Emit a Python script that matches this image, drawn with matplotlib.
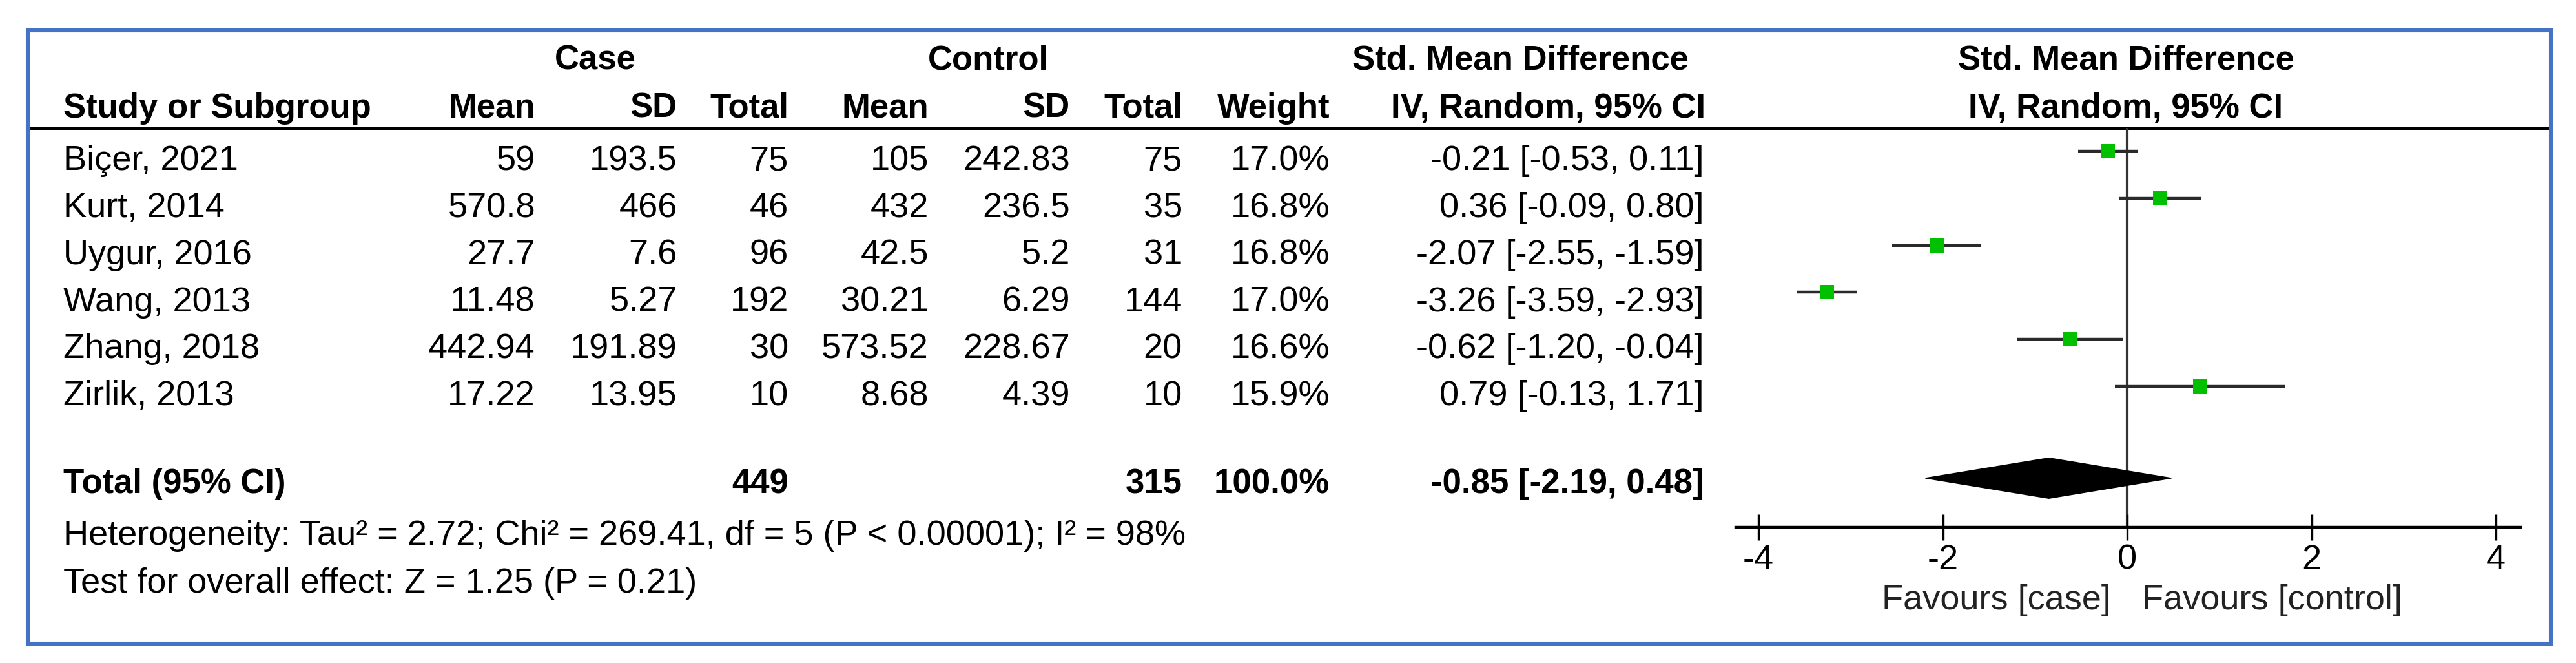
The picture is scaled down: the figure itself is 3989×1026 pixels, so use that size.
import matplotlib
matplotlib.use("Agg")
import matplotlib.pyplot as plt
from matplotlib.patches import Rectangle, Polygon
import numpy as np

plt.rcParams['font.family'] = ['Liberation Sans', 'DejaVu Sans']
plt.rcParams['axes.unicode_minus'] = False

# ---------------- data ----------------
studies = ['Biçer, 2021', 'Kurt, 2014', 'Uygur, 2016', 'Wang, 2013', 'Zhang, 2018', 'Zirlik, 2013']
case_mean = [59, 570.8, 27.7, 11.48, 442.94, 17.22]
case_sd = [193.5, 466, 7.6, 5.27, 191.89, 13.95]
case_n = [75, 46, 96, 192, 30, 10]
ctrl_mean = [105, 432, 42.5, 30.21, 573.52, 8.68]
ctrl_sd = [242.83, 236.5, 5.2, 6.29, 228.67, 4.39]
ctrl_n = [75, 35, 31, 144, 20, 10]
weights = [17.0, 16.8, 16.8, 17.0, 16.6, 15.9]
smd = [-0.21, 0.36, -2.07, -3.26, -0.62, 0.79]
ci_lo = [-0.53, -0.09, -2.55, -3.59, -1.20, -0.13]
ci_hi = [0.11, 0.80, -1.59, -2.93, -0.04, 1.71]

total_case_n = 449
total_ctrl_n = 315
total_weight = 100.0
total_smd = -0.85
total_lo = -2.19
total_hi = 0.48

het_text = "Heterogeneity: Tau² = 2.72; Chi² = 269.41, df = 5 (P < 0.00001); I² = 98%"
test_text = "Test for overall effect: Z = 1.25 (P = 0.21)"

tick_values = [-4, -2, 0, 2, 4]
tick_labels = ['-4', '-2', '0', '2', '4']

# ---------------- figure ----------------
W, H = 3989, 1026
fig = plt.figure(figsize=(W / 100, H / 100), dpi=100)
canvas = fig.add_axes([0, 0, 1, 1])
canvas.set_xlim(0, W)
canvas.set_ylim(H, 0)
canvas.axis('off')

FS = 39
FSB = 38
txt = '#000000'

# border
canvas.add_patch(Rectangle((43, 47), 3950 - 43, 996 - 47, fill=False,
                           edgecolor='#4472C4', lw=4.4, zorder=5))
# header rule
canvas.plot([46, 3947], [198, 198], color='black', lw=3.6, solid_capstyle='butt')

# headers
hb = 108
cb = 182
canvas.text(922, hb, 'Case', ha='center', va='baseline', fontsize=FSB, fontweight='bold', color=txt)
canvas.text(1530, hb, 'Control', ha='center', va='baseline', fontsize=FSB, fontweight='bold', color=txt)
canvas.text(2354, hb, 'Std. Mean Difference', ha='center', va='baseline', fontsize=FSB, fontweight='bold', color=txt)
canvas.text(3292, hb, 'Std. Mean Difference', ha='center', va='baseline', fontsize=FSB, fontweight='bold', color=txt)

name_x = 98
col_x = [829, 1049, 1221, 1438, 1657, 1831, 2059, 2639]
col_heads = ['Mean', 'SD', 'Total', 'Mean', 'SD', 'Total', 'Weight', 'IV, Random, 95% CI']
canvas.text(name_x, cb, 'Study or Subgroup', ha='left', va='baseline', fontsize=FSB, fontweight='bold', color=txt)
for x, h in zip(col_x[:-1], col_heads[:-1]):
    canvas.text(x, cb, h, ha='right', va='baseline', fontsize=FSB, fontweight='bold', color=txt)
canvas.text(2398, cb, col_heads[-1], ha='center', va='baseline', fontsize=FSB, fontweight='bold', color=txt)
canvas.text(3292, cb, 'IV, Random, 95% CI', ha='center', va='baseline', fontsize=FSB, fontweight='bold', color=txt)

# study rows
row0 = 263.5
dy = 72.7
for i, s in enumerate(studies):
    y = row0 + i * dy
    vals = [f"{case_mean[i]:g}", f"{case_sd[i]:g}", f"{case_n[i]}",
            f"{ctrl_mean[i]:g}", f"{ctrl_sd[i]:g}", f"{ctrl_n[i]}",
            f"{weights[i]:.1f}%",
            f"{smd[i]:.2f} [{ci_lo[i]:.2f}, {ci_hi[i]:.2f}]"]
    canvas.text(name_x, y, s, ha='left', va='baseline', fontsize=FS, color=txt)
    for x, v in zip(col_x, vals):
        canvas.text(x, y, v, ha='right', va='baseline', fontsize=FS, color=txt)

# total row
ty = 763
canvas.text(name_x, ty, 'Total (95% CI)', ha='left', va='baseline', fontsize=FSB, fontweight='bold', color=txt)
canvas.text(col_x[2], ty, f"{total_case_n}", ha='right', va='baseline', fontsize=FSB, fontweight='bold', color=txt)
canvas.text(col_x[5], ty, f"{total_ctrl_n}", ha='right', va='baseline', fontsize=FSB, fontweight='bold', color=txt)
canvas.text(col_x[6], ty, f"{total_weight:.1f}%", ha='right', va='baseline', fontsize=FSB, fontweight='bold', color=txt)
canvas.text(col_x[7], ty, f"{total_smd:.2f} [{total_lo:.2f}, {total_hi:.2f}]", ha='right', va='baseline',
            fontsize=FSB, fontweight='bold', color=txt)

canvas.text(name_x, 843, het_text, ha='left', va='baseline', fontsize=FS, color=txt)
canvas.text(name_x, 917, test_text, ha='left', va='baseline', fontsize=FS, color=txt)

# favours labels
canvas.text(3269, 943, 'Favours [case]', ha='right', va='baseline', fontsize=FS, color='#222222')
canvas.text(3317, 943, 'Favours [control]', ha='left', va='baseline', fontsize=FS, color='#222222')

# ---------------- forest axes ----------------
px_per_unit = 142.75
zero_px = 3294
xmin, xmax = -4.245, 4.265
ax_left = zero_px + xmin * px_per_unit
ax_right = zero_px + xmax * px_per_unit
ax_top, ax_bot = 198, 816
mark0 = 234
mark_dy = 72.8
ymin = (ax_top - mark0) / mark_dy
ymax = (ax_bot - mark0) / mark_dy
ax = fig.add_axes([ax_left / W, 1 - ax_bot / H, (ax_right - ax_left) / W, (ax_bot - ax_top) / H])
ax.set_xlim(xmin, xmax)
ax.set_ylim(ymax, ymin)
ax.patch.set_alpha(0)
for sp in ['top', 'left', 'right']:
    ax.spines[sp].set_visible(False)
ax.spines['bottom'].set_linewidth(3.2)
ax.set_yticks([])
ax.set_xticks(tick_values)
ax.set_xticklabels(tick_labels, fontsize=FS)
ax.tick_params(axis='x', direction='inout', length=29, width=2.4, pad=4, colors='black')

ax.axvline(0, color='#333333', lw=3.0, zorder=1)

rows = np.arange(len(studies))
for i in rows:
    ax.plot([ci_lo[i], ci_hi[i]], [i, i], color='#2a2a2a', lw=3.2, solid_capstyle='butt', zorder=2)
sizes = 16.0 * np.sqrt(np.array(weights) / max(weights))
for i in rows:
    ax.plot(smd[i], i, marker='s', markersize=sizes[i], color='#00C000', markeredgewidth=0, zorder=3)

total_row = 6.95
hh = 0.43
ax.add_patch(Polygon([[total_lo, total_row], [total_smd, total_row - hh],
                      [total_hi, total_row], [total_smd, total_row + hh]],
                     closed=True, facecolor='black', edgecolor='black', lw=1, zorder=3))

fig.savefig('out.png', dpi=100)
